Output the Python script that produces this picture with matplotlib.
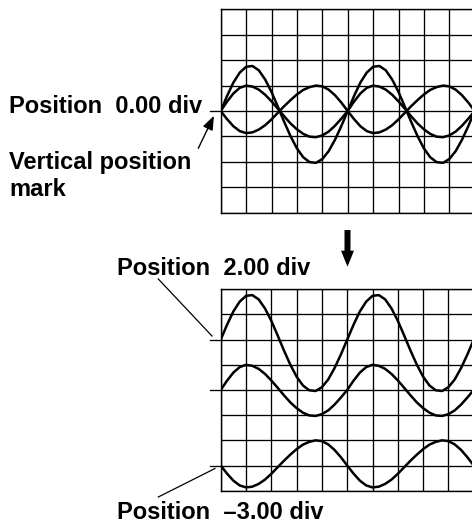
import matplotlib
matplotlib.use('Agg')
import matplotlib.pyplot as plt
from matplotlib.patches import FancyArrow

# ---- data (in divisions) ----
div_x = [0.0, 0.25, 0.5, 0.75, 1.0, 1.25, 1.5, 1.75, 2.0, 2.25,
         2.5, 2.75, 3.0, 3.25, 3.5, 3.75, 4.0, 4.25, 4.5, 4.75,
         5.0, 5.25, 5.5, 5.75, 6.0, 6.25, 6.5, 6.75, 7.0, 7.25,
         7.5, 7.75, 8.0, 8.25, 8.5, 8.75, 9.0, 9.25, 9.5, 9.75, 10.0]

wave_large = [0, 0.59, 1.12, 1.51, 1.74, 1.77, 1.60, 1.24, 0.75, 0.17,
              -0.43, -0.99, -1.47, -1.82, -2.01, -2.04, -1.89, -1.58, -1.13, -0.59,
              0, 0.59, 1.12, 1.51, 1.74, 1.77, 1.60, 1.24, 0.75, 0.17,
              -0.43, -0.99, -1.47, -1.82, -2.01, -2.04, -1.89, -1.58, -1.13, -0.59, 0]

wave_medium = [0, 0.37, 0.69, 0.91, 1.00, 0.96, 0.84, 0.64, 0.38, 0.09,
               -0.21, -0.49, -0.72, -0.90, -1.01, -1.03, -0.96, -0.81, -0.58, -0.30,
               0, 0.37, 0.69, 0.91, 1.00, 0.96, 0.84, 0.64, 0.38, 0.09,
               -0.21, -0.49, -0.72, -0.90, -1.01, -1.03, -0.96, -0.81, -0.58, -0.30, 0]

wave_inverted = [0, -0.32, -0.60, -0.79, -0.87, -0.84, -0.73, -0.56, -0.33, -0.07,
                 0.19, 0.43, 0.65, 0.83, 0.94, 1.00, 0.97, 0.84, 0.62, 0.33,
                 0, -0.32, -0.60, -0.79, -0.87, -0.84, -0.73, -0.56, -0.33, -0.07,
                 0.19, 0.43, 0.65, 0.83, 0.94, 1.00, 0.97, 0.84, 0.62, 0.33, 0]

top_positions = [0.0, 0.0, 0.0]
bottom_positions = [2.0, 0.0, -3.0]

label_top = 'Position  0.00 div'
label_mark = ['Vertical position', 'mark']
label_pos2 = 'Position  2.00 div'
label_neg3 = 'Position  \u20133.00 div'

# ---- figure ----
W, H, DPI = 472, 525, 100
fig = plt.figure(figsize=(W / DPI, H / DPI), dpi=DPI)
fig.patch.set_facecolor('white')


def px_rect(l, t, r, b):
    return [l / W, 1 - b / H, (r - l) / W, (b - t) / H]


def scope(ax, positions):
    ax.set_xlim(0, 10)
    ax.set_ylim(-4, 4)
    ax.set_xticks(range(11))
    ax.set_yticks(range(-4, 5))
    ax.tick_params(length=0, labelbottom=False, labelleft=False)
    ax.grid(True, color='black', lw=0.95)
    ax.set_axisbelow(True)
    for s in ax.spines.values():
        s.set_linewidth(1.0)
        s.set_color('black')
    waves = [wave_large, wave_medium, wave_inverted]
    for w, p in zip(waves, positions):
        ax.plot(div_x, [v + p for v in w], color='black', lw=1.8,
                solid_joinstyle='round', solid_capstyle='round')
    for p in sorted(set(positions)):
        ax.plot([-0.42, 0], [p, p], color='black', lw=0.95, clip_on=False)


ax_top = fig.add_axes(px_rect(220.7, 9.3, 474.7, 212.7))
scope(ax_top, top_positions)
ax_bot = fig.add_axes(px_rect(220.7, 289.3, 473.7, 490.7))
scope(ax_bot, bottom_positions)

# overlay in pixel coordinates for annotations
ov = fig.add_axes([0, 0, 1, 1], zorder=5)
ov.set_xlim(0, W)
ov.set_ylim(H, 0)
ov.set_facecolor('none')
ov.axis('off')

font = dict(family=['Liberation Sans', 'DejaVu Sans'], fontweight='bold',
            fontsize=17, color='black', va='baseline', ha='left')
ov.text(9.3, 113.3, label_top, **font)
ov.text(9.3, 169.3, label_mark[0], **font)
ov.text(9.3, 196.0, label_mark[1], **font)
ov.text(116.7, 275.0, label_pos2, **font)
ov.text(116.7, 519.0, label_neg3, **font)

ov.annotate('', xy=(214.0, 115.7), xytext=(198.3, 148.3),
            arrowprops=dict(arrowstyle='-|>,head_length=0.85,head_width=0.32',
                            mutation_scale=10, lw=1.0, color='black',
                            shrinkA=0, shrinkB=0))

ov.plot([158.3, 212.0], [279.0, 336.0], color='black', lw=0.9)
ov.plot([158.3, 215.0], [497.0, 468.5], color='black', lw=0.9)

ov.add_patch(FancyArrow(347.5, 230.0, 0, 36.7, width=6.0, head_width=13.0,
                        head_length=16.0, length_includes_head=True,
                        color='black', lw=0))

fig.savefig('out.png', dpi=DPI, facecolor='white')
